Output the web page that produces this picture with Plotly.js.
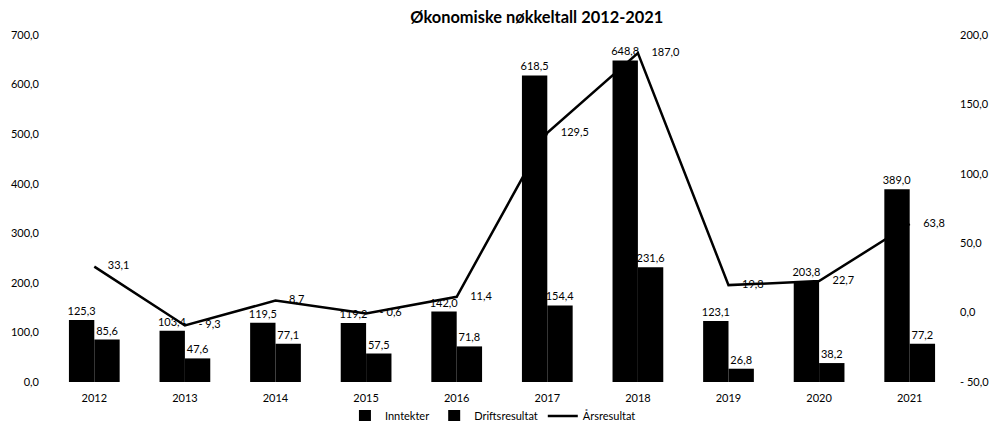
<!DOCTYPE html>
<html>
<head>
<meta charset="utf-8">
<script src="https://cdn.plot.ly/plotly-3.0.1.min.js"></script>
<style>html,body{margin:0;padding:0;background:#fff;}#chart{width:996px;height:421px;}</style>
</head>
<body>
<div id="chart"></div>
<script>
const years = ['2012','2013','2014','2015','2016','2017','2018','2019','2020','2021'];
const inntekter = [125.3, 103.4, 119.5, 119.2, 142.0, 618.5, 648.8, 123.1, 203.8, 389.0];
const driftsresultat = [85.6, 47.6, 77.1, 57.5, 71.8, 154.4, 231.6, 26.8, 38.2, 77.2];
const arsresultat = [33.1, -9.3, 8.7, -0.6, 11.4, 129.5, 187.0, 19.8, 22.7, 63.8];
const leftTickVals = [0, 100, 200, 300, 400, 500, 600, 700];
const leftTickText = ['0,0', '100,0', '200,0', '300,0', '400,0', '500,0', '600,0', '700,0'];
const rightTickVals = [-50, 0, 50, 100, 150, 200];
const rightTickText = ['- 50,0', '0,0', '50,0', '100,0', '150,0', '200,0'];

function fmt(v) {
  const s = Math.abs(v).toFixed(1).replace('.', ',');
  return v < 0 ? '- ' + s : s;
}

const FONT = 'Lato, "Open Sans", sans-serif';

const traces = [
  {
    type: 'bar', name: 'Inntekter', x: years, y: inntekter,
    marker: {color: '#000'},
    text: inntekter.map(fmt), textposition: 'outside', constraintext: 'none',
    textfont: {family: FONT, size: 11, color: '#000'},
    cliponaxis: false
  },
  {
    type: 'bar', name: 'Driftsresultat', x: years, y: driftsresultat,
    marker: {color: '#000'},
    text: driftsresultat.map(fmt), textposition: 'outside', constraintext: 'none',
    textfont: {family: FONT, size: 11, color: '#000'},
    cliponaxis: false
  },
  {
    type: 'scatter', mode: 'lines+markers+text', name: 'Årsresultat', x: years, y: arsresultat,
    yaxis: 'y2',
    line: {color: '#000', width: 2.5},
    marker: {size: 20, color: 'rgba(0,0,0,0)'},
    text: arsresultat.map(fmt), textposition: 'middle right',
    textfont: {family: FONT, size: 11, color: '#000'},
    cliponaxis: false
  }
];

const layout = {
  width: 996, height: 421,
  margin: {l: 49, r: 41, t: 35, b: 39, autoexpand: false},
  paper_bgcolor: '#fff', plot_bgcolor: '#fff',
  font: {family: FONT, size: 11, color: '#000'},
  title: {text: '<b>Økonomiske nøkkeltall 2012-2021</b>', x: 0.539, xanchor: 'center', y: 0.96, yanchor: 'middle',
          font: {family: FONT, size: 16.4, color: '#000'}},
  barmode: 'group', bargap: 0.44, bargroupgap: 0,
  showlegend: true,
  legend: {orientation: 'h', x: 0.49, xanchor: 'center', y: -0.098, yanchor: 'middle',
           font: {family: FONT, size: 11, color: '#000'}, traceorder: 'normal', itemwidth: 30},
  xaxis: {type: 'category', range: [-0.5, 9.5], autorange: false, showgrid: false, zeroline: false, showline: false, ticks: '', automargin: false,
          ticklabelstandoff: 8, tickfont: {family: FONT, size: 11, color: '#000'}},
  yaxis: {range: [0, 700], autorange: false, tickvals: leftTickVals, ticktext: leftTickText, showgrid: false, automargin: false,
          ticklabelstandoff: 9, zeroline: false, showline: false, ticks: '', tickfont: {family: FONT, size: 11, color: '#000'}},
  yaxis2: {range: [-50, 200], autorange: false, overlaying: 'y', side: 'right', tickvals: rightTickVals, ticktext: rightTickText, automargin: false,
           ticklabelstandoff: 4, showgrid: false, zeroline: false, showline: false, ticks: '', tickfont: {family: FONT, size: 11, color: '#000'}},
  hovermode: false
};

Plotly.newPlot('chart', traces, layout, {displayModeBar: false, staticPlot: true});
</script>
</body>
</html>
